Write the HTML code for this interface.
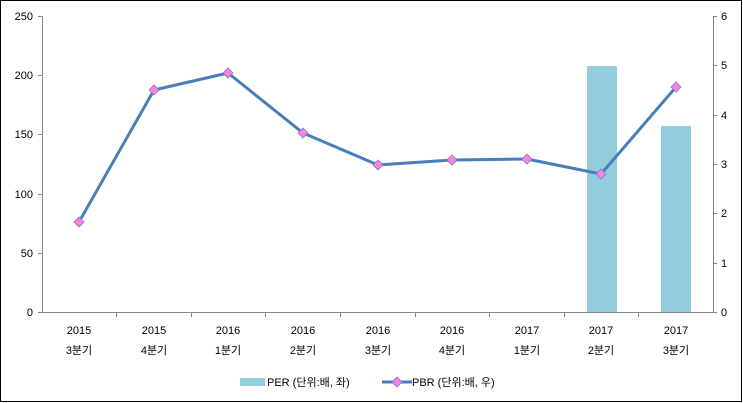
<!DOCTYPE html>
<html><head><meta charset="utf-8"><style>
html,body{margin:0;padding:0;background:#fff;}
svg{display:block;}
text{font-family:"Liberation Sans","Noto Sans CJK KR",sans-serif;font-size:11px;fill:#000;}
</style></head><body>
<svg width="743" height="403" viewBox="0 0 743 403" xmlns="http://www.w3.org/2000/svg">
<rect x="0.5" y="0.5" width="741" height="401" fill="#fff" stroke="#000" stroke-width="1"/>
<!-- bars -->
<rect x="587" y="66" width="30" height="246" fill="#93CDDD"/>
<rect x="661" y="126" width="30" height="186" fill="#93CDDD"/>
<!-- axes -->
<g stroke="#868686" stroke-width="1" fill="none">
<line x1="42.5" y1="16" x2="42.5" y2="313"/>
<line x1="713.5" y1="16" x2="713.5" y2="313"/>
<line x1="38" y1="312.5" x2="717" y2="312.5"/>
<line x1="38" y1="16.5" x2="42" y2="16.5"/>
<line x1="38" y1="75.5" x2="42" y2="75.5"/>
<line x1="38" y1="134.5" x2="42" y2="134.5"/>
<line x1="38" y1="194.5" x2="42" y2="194.5"/>
<line x1="38" y1="253.5" x2="42" y2="253.5"/>
<line x1="713" y1="16.5" x2="717" y2="16.5"/>
<line x1="713" y1="65.5" x2="717" y2="65.5"/>
<line x1="713" y1="115.5" x2="717" y2="115.5"/>
<line x1="713" y1="164.5" x2="717" y2="164.5"/>
<line x1="713" y1="213.5" x2="717" y2="213.5"/>
<line x1="713" y1="263.5" x2="717" y2="263.5"/>
<line x1="116.5" y1="312" x2="116.5" y2="317"/>
<line x1="191.5" y1="312" x2="191.5" y2="317"/>
<line x1="265.5" y1="312" x2="265.5" y2="317"/>
<line x1="340.5" y1="312" x2="340.5" y2="317"/>
<line x1="415.5" y1="312" x2="415.5" y2="317"/>
<line x1="489.5" y1="312" x2="489.5" y2="317"/>
<line x1="564.5" y1="312" x2="564.5" y2="317"/>
<line x1="638.5" y1="312" x2="638.5" y2="317"/>
</g>
<g text-anchor="end">
<text x="33" y="20">250</text><text x="33" y="79">200</text><text x="33" y="138">150</text>
<text x="33" y="198">100</text><text x="33" y="257">50</text><text x="33" y="316">0</text>
</g>
<g>
<text x="721" y="20">6</text><text x="721" y="69">5</text><text x="721" y="119">4</text>
<text x="721" y="168">3</text><text x="721" y="217">2</text><text x="721" y="267">1</text><text x="721" y="316">0</text>
</g>
<g text-anchor="middle">
<text x="79" y="334">2015</text><text x="79" y="354">3분기</text>
<text x="154" y="334">2015</text><text x="154" y="354">4분기</text>
<text x="228" y="334">2016</text><text x="228" y="354">1분기</text>
<text x="303" y="334">2016</text><text x="303" y="354">2분기</text>
<text x="378" y="334">2016</text><text x="378" y="354">3분기</text>
<text x="452" y="334">2016</text><text x="452" y="354">4분기</text>
<text x="527" y="334">2017</text><text x="527" y="354">1분기</text>
<text x="601" y="334">2017</text><text x="601" y="354">2분기</text>
<text x="676" y="334">2017</text><text x="676" y="354">3분기</text>
</g>
<polyline points="79,222 154,90 228,73 303,133 378,165 452,160 527,159 601,174 676,87" fill="none" stroke="#4A7EBB" stroke-width="3" stroke-linejoin="round"/>
<g fill="#FF80E0" stroke="#7A7ACC" stroke-width="0.8">
<polygon points="79,217 84,222 79,227 74,222"/>
<polygon points="154,85 159,90 154,95 149,90"/>
<polygon points="228,68 233,73 228,78 223,73"/>
<polygon points="303,128 308,133 303,138 298,133"/>
<polygon points="378,160 383,165 378,170 373,165"/>
<polygon points="452,155 457,160 452,165 447,160"/>
<polygon points="527,154 532,159 527,164 522,159"/>
<polygon points="601,169 606,174 601,179 596,174"/>
<polygon points="676,82 681,87 676,92 671,87"/>
</g>
<!-- legend -->
<rect x="240" y="378" width="25" height="8" fill="#93CDDD"/>
<text x="267" y="386">PER (단위:배, 좌)</text>
<line x1="382" y1="382" x2="412" y2="382" stroke="#4A7EBB" stroke-width="3"/>
<polygon points="397,377 402,382 397,387 392,382" fill="#FF80E0" stroke="#7A7ACC" stroke-width="0.8"/>
<text x="412" y="386">PBR (단위:배, 우)</text>
</svg>
</body></html>
